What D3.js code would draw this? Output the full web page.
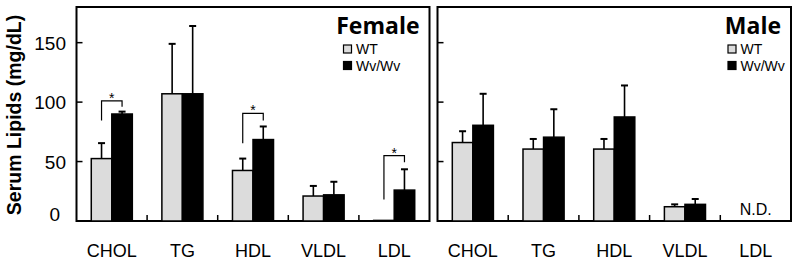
<!DOCTYPE html>
<html>
<head>
<meta charset="utf-8">
<script src="https://cdn.jsdelivr.net/npm/d3@7"></script>
<style>
  body { margin: 0; background: #fff; }
  svg { display: block; }
</style>
</head>
<body>
<div id="main_plot"></div>
<script>
// categories and groups
var categories = ["CHOL", "TG", "HDL", "VLDL", "LDL"];
var groups = ["WT", "Wv/Wv"];
var yTicks = [50, 100, 150];
var yTickLabels = [0, 50, 100, 150];

// female values (mg/dL) and upper error
var femaleWT     = [52.5, 107, 42.5, 21, 0.5];
var femaleWTErr  = [13, 42, 10, 8.5, 0];
var femaleWv     = [90, 107, 68.5, 22, 26];
var femaleWvErr  = [2, 57, 11, 11, 17.5];

// male values, LDL not detected
var maleWT    = [66, 60.5, 60.5, 12, null];
var maleWTErr = [9.5, 8.5, 8.5, 2, null];
var maleWv    = [80.5, 70.5, 87.5, 14, null];
var maleWvErr = [26.5, 23.5, 26.5, 4.5, null];

// significance brackets (female only): top, left leg end, right leg end
var sigCats  = ["CHOL", "HDL", "LDL"];
var sigTop   = [101, 90.5, 55];
var sigLeft  = [84.5, 65.5, 18];
var sigRight = [96, 84.5, 49.5];

var colors = {"WT": "#dcdcdc", "Wv/Wv": "#000"};

var W = 800, H = 264;
var svg = d3.select("#main_plot").append("svg")
  .attr("width", W).attr("height", H);

// note: "top" is taken by window.top, so use plotTop
var plotTop = 7, plotBottom = 221;
var y = d3.scaleLinear().domain([0, 180]).range([plotBottom, plotTop]);

// y axis title
svg.append("text")
  .attr("transform", "translate(21," + ((plotTop + plotBottom) / 2 + 1) + ") rotate(-90)")
  .attr("text-anchor", "middle")
  .attr("font-family", "Liberation Sans, Arial, sans-serif")
  .attr("font-weight", "bold")
  .attr("font-size", 19.5)
  .text("Serum Lipids (mg/dL)");

// y tick labels
svg.selectAll(".ylab").data(yTickLabels).enter().append("text")
  .attr("class", "ylab")
  .attr("x", function(d) { return d === 0 ? 60 : 66; })
  .attr("y", function(d) { return y(d) + (d === 0 ? 0 : 7); })
  .attr("text-anchor", "end")
  .attr("font-family", "Liberation Sans, Arial, sans-serif")
  .attr("font-size", 19)
  .text(function(d) { return d; });

function drawPanel(x0, x1, title, legendOffset, wt, wtErr, wv, wvErr, sig) {
  var g = svg.append("g");
  var x = d3.scaleBand().domain(categories).range([x0, x1]);
  var xs = d3.scaleBand().domain(groups).range([0, x.bandwidth()]).paddingOuter(0.72);

  // frame
  g.append("rect")
    .attr("x", x0).attr("y", plotTop)
    .attr("width", x1 - x0).attr("height", plotBottom - plotTop)
    .attr("fill", "none").attr("stroke", "#000").attr("stroke-width", 2);

  // inward y ticks
  g.selectAll(".yt").data(yTicks).enter().append("line")
    .attr("x1", x0).attr("x2", x0 + 6)
    .attr("y1", function(d) { return y(d); })
    .attr("y2", function(d) { return y(d); })
    .attr("stroke", "#000").attr("stroke-width", 1.5);

  // category separators
  g.selectAll(".sep").data(categories.slice(1)).enter().append("line")
    .attr("x1", function(d) { return x(d); })
    .attr("x2", function(d) { return x(d); })
    .attr("y1", plotBottom).attr("y2", plotBottom - 6)
    .attr("stroke", "#000").attr("stroke-width", 1.5);

  // x labels
  g.selectAll(".xl").data(categories).enter().append("text")
    .attr("x", function(d) { return x(d) + x.bandwidth() / 2; })
    .attr("y", 256.5)
    .attr("text-anchor", "middle")
    .attr("font-family", "Liberation Sans, Arial, sans-serif")
    .attr("font-size", 18)
    .text(function(d) { return d; });

  var rows = [];
  categories.forEach(function(c, i) {
    rows.push({cat: c, grp: "WT", v: wt[i], e: wtErr[i]});
    rows.push({cat: c, grp: "Wv/Wv", v: wv[i], e: wvErr[i]});
  });
  var valid = rows.filter(function(d) { return d.v !== null; });

  // error bars (upper only)
  var eb = valid.filter(function(d) { return d.e > 0; });
  g.selectAll(".ev").data(eb).enter().append("line")
    .attr("x1", function(d) { return x(d.cat) + xs(d.grp) + xs.bandwidth() / 2; })
    .attr("x2", function(d) { return x(d.cat) + xs(d.grp) + xs.bandwidth() / 2; })
    .attr("y1", function(d) { return y(d.v); })
    .attr("y2", function(d) { return y(d.v + d.e); })
    .attr("stroke", "#000").attr("stroke-width", 1.6);
  g.selectAll(".ec").data(eb).enter().append("line")
    .attr("x1", function(d) { return x(d.cat) + xs(d.grp) + xs.bandwidth() / 2 - 3.5; })
    .attr("x2", function(d) { return x(d.cat) + xs(d.grp) + xs.bandwidth() / 2 + 3.5; })
    .attr("y1", function(d) { return y(d.v + d.e); })
    .attr("y2", function(d) { return y(d.v + d.e); })
    .attr("stroke", "#000").attr("stroke-width", 2);

  // bars
  g.selectAll(".bar").data(valid).enter().append("rect")
    .attr("x", function(d) { return x(d.cat) + xs(d.grp); })
    .attr("y", function(d) { return y(d.v); })
    .attr("width", xs.bandwidth())
    .attr("height", function(d) { return plotBottom - y(d.v); })
    .attr("fill", function(d) { return colors[d.grp]; })
    .attr("stroke", "#000").attr("stroke-width", 1.5);

  // N.D. for missing values
  var nd = categories.filter(function(c, i) { return wt[i] === null; });
  g.selectAll(".nd").data(nd).enter().append("text")
    .attr("x", function(d) { return x(d) + x.bandwidth() / 2; })
    .attr("y", 215)
    .attr("text-anchor", "middle")
    .attr("font-family", "Liberation Sans, Arial, sans-serif")
    .attr("font-size", 16)
    .text("N.D.");

  // significance brackets
  if (sig) {
    sig.cats.forEach(function(c, i) {
      var xa = x(c) + xs("WT") + xs.bandwidth() / 2;
      var xb = x(c) + xs("Wv/Wv") + xs.bandwidth() / 2;
      g.append("path")
        .attr("d", "M" + xa + "," + y(sig.left[i]) + "V" + y(sig.top[i]) +
                   "H" + xb + "V" + y(sig.right[i]))
        .attr("fill", "none").attr("stroke", "#000").attr("stroke-width", 1.2);
      g.append("text")
        .attr("x", (xa + xb) / 2)
        .attr("y", y(sig.top[i]) + 2)
        .attr("text-anchor", "middle")
        .attr("font-family", "Liberation Sans, Arial, sans-serif")
        .attr("font-size", 14)
        .text("*");
    });
  }

  // title and legend
  g.append("text")
    .attr("x", x1 - 10).attr("y", 34)
    .attr("text-anchor", "end")
    .attr("font-family", "Open Sans, sans-serif")
    .attr("font-weight", "bold")
    .attr("font-size", 23)
    .text(title);
  var lx = x1 - legendOffset;
  groups.forEach(function(gr, i) {
    g.append("rect")
      .attr("x", lx).attr("y", 45 + i * 16.5)
      .attr("width", 8).attr("height", 8)
      .attr("fill", colors[gr]).attr("stroke", "#000").attr("stroke-width", 1.2);
    g.append("text")
      .attr("x", lx + 12.5).attr("y", 54 + i * 16.5)
      .attr("font-family", "Liberation Sans, Arial, sans-serif")
      .attr("font-size", 14)
      .text(gr);
  });
}

drawPanel(76.5, 429.5, "Female", 86, femaleWT, femaleWTErr, femaleWv, femaleWvErr,
  {cats: sigCats, top: sigTop, left: sigLeft, right: sigRight});
drawPanel(437.5, 791, "Male", 63, maleWT, maleWTErr, maleWv, maleWvErr, null);
</script>
</body>
</html>
